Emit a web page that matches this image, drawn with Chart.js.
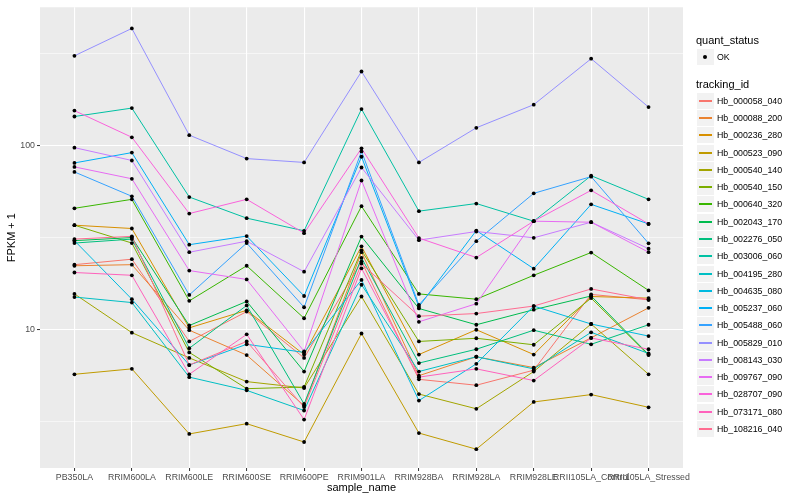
<!DOCTYPE html>
<html>
<head>
<meta charset="utf-8">
<script src="https://cdn.jsdelivr.net/npm/chart.js@4.4.0/dist/chart.umd.min.js"></script>
<style>
  body { margin: 0; background: #fff; }
  #wrap { position: relative; width: 800px; height: 500px; font-family: "Liberation Sans", Arial, sans-serif; }
  #legend { position: absolute; left: 696px; top: 0; }
  .ttl { position: absolute; left: 0; font-size: 11px; color: #000; white-space: nowrap; line-height: 13px; }
  .key { position: absolute; left: 1px; width: 17px; height: 16px; background: #F2F2F2; }
  .seg { position: absolute; left: 2px; width: 13px; top: 7px; height: 2px; }
  .dot { position: absolute; left: 6px; top: 6px; width: 4px; height: 4px; border-radius: 50%; background: #000; }
  .lab { position: absolute; left: 21px; font-size: 8.8px; color: #000; white-space: nowrap; line-height: 10px; }
</style>
</head>
<body>
<div id="wrap">
  <canvas id="chart" width="800" height="500"></canvas>
  <div id="legend"></div>
</div>
<script>
// categories
const samples = ['PB350LA', 'RRIM600LA', 'RRIM600LE', 'RRIM600SE', 'RRIM600PE', 'RRIM901LA',
  'RRIM928BA', 'RRIM928LA', 'RRIM928LE', 'RRII105LA_Control', 'RRII105LA_Stressed'];

const trackingIds = ['Hb_000058_040', 'Hb_000088_200', 'Hb_000236_280', 'Hb_000523_090', 'Hb_000540_140',
  'Hb_000540_150', 'Hb_000640_320', 'Hb_002043_170', 'Hb_002276_050', 'Hb_003006_060',
  'Hb_004195_280', 'Hb_004635_080', 'Hb_005237_060', 'Hb_005488_060', 'Hb_005829_010',
  'Hb_008143_030', 'Hb_009767_090', 'Hb_028707_090', 'Hb_073171_080', 'Hb_108216_040'];

const palette = ['#F8766D', '#EA8331', '#D89000', '#C09B00', '#A3A500', '#7CAE00', '#39B600', '#00BB4E',
  '#00BF7D', '#00C1A3', '#00BFC4', '#00BAE0', '#00B0F6', '#35A2FF', '#9590FF', '#C77CFF',
  '#E76BF3', '#FA62DB', '#FF62BC', '#FF6C91'];

// FPKM + 1 per sample
const hb000058_040 = [22.5, 24.1, 8.6, 12.5, 7.0, 23.4, 5.35, 4.97, 6.0, 15.5, 14.5];
const hb000088_200 = [22.2, 22.5, 9.9, 7.25, 3.85, 26.3, 5.6, 7.1, 6.2, 9.0, 13.1];
const hb000236_280 = [36.9, 35.4, 10.2, 12.7, 7.3, 28.3, 7.3, 9.96, 7.3, 15.1, 14.8];
const hb000523_090 = [5.7, 6.1, 2.7, 3.07, 2.44, 9.5, 2.73, 2.23, 4.03, 4.42, 3.77];
const hb000540_140 = [15.6, 9.6, 7.0, 5.2, 4.8, 15.1, 4.45, 3.7, 5.9, 10.7, 5.7];
const hb000540_150 = [36.9, 29.5, 7.5, 4.76, 4.86, 26.9, 8.6, 8.95, 8.25, 14.8, 7.25];
const hb000640_320 = [45.6, 51, 14.3, 22.2, 11.5, 46.8, 15.6, 14.6, 19.7, 26.2, 16.3];
const hb002043_170 = [30.4, 31.6, 10.5, 14.2, 5.9, 32, 13.0, 10.6, 12.8, 15.2, 7.3];
const hb002276_050 = [29.5, 31, 7.9, 13.5, 3.93, 24.5, 6.56, 7.8, 9.9, 8.3, 10.6];
const hb003006_060 = [144, 160, 52.5, 40.3, 34.4, 158, 44, 48.4, 38.8, 68.6, 51];
const hb004195_280 = [15.0, 14.0, 5.5, 4.66, 3.62, 17.5, 5.9, 7.1, 6.1, 9.64, 7.4];
const hb004635_080 = [30.4, 14.6, 6.4, 8.3, 7.5, 18.6, 4.1, 6.5, 13.4, 10.7, 9.2];
const hb005237_060 = [80.5, 91.6, 28.9, 32.2, 15.2, 87, 13.3, 34.5, 21.4, 47.9, 37.5];
const hb005488_060 = [71.9, 53, 15.4, 29.5, 13.2, 93, 13.6, 30.2, 55, 67.8, 29.4];
const hb005829_010 = [308, 434, 114, 85, 81, 253, 81, 125, 167, 297, 162];
const hb008143_030 = [97.5, 83, 26.3, 30.2, 20.6, 76, 30.6, 34.1, 31.5, 38.3, 27.5];
const hb009767_090 = [76.6, 66, 20.9, 18.7, 7.6, 64.6, 11.0, 13.8, 38.8, 38.3, 26.3];
const hb028707_090 = [155, 111, 42.7, 51, 33.4, 96.6, 31.4, 24.6, 38.8, 57.1, 37.5];
const hb073171_080 = [20.4, 19.7, 5.7, 9.4, 3.23, 21.5, 5.5, 6.1, 5.27, 8.98, 7.8];
const hb108216_040 = [31, 32.1, 6.4, 8.6, 3.78, 22.8, 11.8, 12.2, 13.4, 16.6, 14.5];

const seriesValues = [hb000058_040, hb000088_200, hb000236_280, hb000523_090, hb000540_140,
  hb000540_150, hb000640_320, hb002043_170, hb002276_050, hb003006_060,
  hb004195_280, hb004635_080, hb005237_060, hb005488_060, hb005829_010,
  hb008143_030, hb009767_090, hb028707_090, hb073171_080, hb108216_040];

// axis ticks
const yTicks = [10, 100];
const yMinor = [3.162, 31.62, 316.2];

const FONT = '"Liberation Sans", Arial, sans-serif';

const datasets = seriesValues.map((vals, i) => ({
  type: 'line',
  label: trackingIds[i],
  data: vals.map((v, j) => ({ x: j, y: v })),
  borderColor: palette[i],
  borderWidth: 1,
  pointRadius: 0,
  tension: 0,
  order: seriesValues.length - i
}));

// points on top of all lines, like geom_point after geom_line
datasets.push({
  type: 'scatter',
  label: 'OK',
  data: seriesValues.flatMap(vals => vals.map((v, j) => ({ x: j, y: v }))),
  backgroundColor: '#000',
  borderWidth: 0,
  pointRadius: 1.9,
  order: -1
});

const panelBg = {
  id: 'panelBg',
  beforeDraw(chart) {
    const { ctx, chartArea: a } = chart;
    ctx.save();
    ctx.fillStyle = '#EBEBEB';
    ctx.fillRect(a.left, a.top, a.right - a.left, a.bottom - a.top);
    ctx.restore();
  }
};

new Chart(document.getElementById('chart').getContext('2d'), {
  data: { datasets },
  options: {
    responsive: false,
    animation: false,
    devicePixelRatio: 1,
    layout: { padding: { top: 5, right: 117, left: 0, bottom: 0 } },
    plugins: { legend: { display: false }, tooltip: { enabled: false } },
    scales: {
      x: {
        type: 'linear',
        min: -0.6,
        max: 10.6,
        afterBuildTicks: s => { s.ticks = samples.map((_, i) => ({ value: i })); },
        afterFit: s => { s.height = 32; },
        ticks: {
          callback: v => samples[v],
          autoSkip: false,
          maxRotation: 0,
          minRotation: 0,
          padding: 1.5,
          color: '#4D4D4D',
          font: { family: FONT, size: 8.8 }
        },
        grid: { color: '#FFFFFF', lineWidth: 1.1, tickColor: '#333333', tickLength: 3, tickWidth: 1 },
        border: { display: false },
        title: {
          display: true, text: 'sample_name', color: '#000',
          font: { family: FONT, size: 11 }, padding: { top: 0, bottom: 5 }
        }
      },
      y: {
        type: 'logarithmic',
        min: 1.762,
        max: 565.7,
        afterBuildTicks: s => {
          s.ticks = [...yMinor, ...yTicks].sort((a, b) => a - b).map(v => ({ value: v }));
        },
        afterFit: s => { s.width = 40; },
        ticks: {
          callback: v => (yTicks.includes(v) ? String(v) : ''),
          autoSkip: false,
          padding: 2,
          color: '#4D4D4D',
          font: { family: FONT, size: 8.8 }
        },
        grid: {
          color: '#FFFFFF',
          lineWidth: c => (c.tick && yTicks.includes(c.tick.value) ? 1.1 : 0.55),
          tickColor: c => (c.tick && yTicks.includes(c.tick.value) ? '#333333' : 'rgba(0,0,0,0)'),
          tickLength: 3,
          tickWidth: 1
        },
        border: { display: false },
        title: {
          display: true, text: 'FPKM + 1', color: '#000',
          font: { family: FONT, size: 11 }, padding: { top: 5, bottom: 0 }
        }
      }
    }
  },
  plugins: [panelBg]
});

// ggplot style legend
const legend = document.getElementById('legend');
function add(cls, top, text) {
  const el = document.createElement('div');
  el.className = cls;
  el.style.top = Math.round(top) + 'px';
  if (text) el.textContent = text;
  legend.appendChild(el);
  return el;
}
add('ttl', 34, 'quant_status');
const okKey = add('key', 49);
okKey.appendChild(Object.assign(document.createElement('div'), { className: 'dot' }));
add('lab', 52, 'OK');
add('ttl', 77.5, 'tracking_id');
trackingIds.forEach((id, i) => {
  const c = 100.7 + i * 17.28;
  const k = add('key', c - 8);
  const seg = document.createElement('div');
  seg.className = 'seg';
  seg.style.background = palette[i];
  k.appendChild(seg);
  add('lab', c - 5, id);
});
</script>
</body>
</html>
